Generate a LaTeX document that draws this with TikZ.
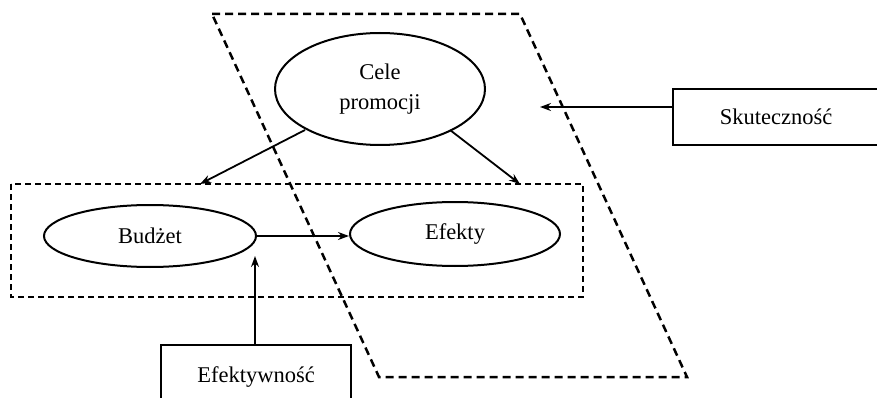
\documentclass[tikz,border=0pt]{standalone}
\usepackage{fontspec}
\setmainfont{Liberation Serif}
\usetikzlibrary{shapes.geometric,arrows.meta}
\begin{document}
\begin{tikzpicture}[x=1pt,y=-1pt,
  oval/.style={draw,ellipse,line width=2pt,inner sep=0pt,font=\fontsize{22.5}{30}\selectfont,align=center},
  lbox/.style={draw,rectangle,line width=2pt,inner sep=0pt,font=\fontsize{22.5}{27}\selectfont},
  conn/.style={line width=1.8pt,-{Stealth[length=11pt,width=8pt]}},
  para/.style={line width=2.5pt,dash pattern=on 8pt off 5pt},
  frame/.style={line width=2pt,dash pattern=on 6pt off 4pt}]
\useasboundingbox (0,0) rectangle (877,398);
\clip (0,0) rectangle (877,398);
% parallelogram
\coordinate (p1) at (212,14);
\coordinate (p2) at (520,14);
\coordinate (p3) at (687,377);
\coordinate (p4) at (379,377);
\draw[para] (p1) -- (p2) -- (p3) -- (p4) -- cycle;
% dashed frame
\coordinate (f1) at (11,184);
\coordinate (f2) at (583,297);
\draw[frame] (f1) rectangle (f2);
% ellipses
\node[oval,minimum width=210pt,minimum height=112pt] (cele) at (380,89) {Cele\\promocji};
\node[oval,minimum width=212pt,minimum height=62pt] (budzet) at (150,236) {Budżet};
\node[oval,minimum width=210pt,minimum height=64pt] (efekty) at (455,234) {\raisebox{-2pt}{Efekty}};
% boxes
\node[lbox,minimum width=220pt,minimum height=56pt,anchor=north west] (skut) at (672,88) {\hspace*{-14pt}Skuteczność};
\node[lbox,minimum width=190pt,minimum height=70pt,anchor=north west] (efekt) at (160,344) {\raisebox{11pt}{Efektywność}};
% arrow targets
\coordinate (t1) at (200,184);
\coordinate (t2) at (520,184);
\coordinate (t3) at (540,107);
\coordinate (t4) at (255,256);
\coordinate (s1) at (305,130);
\coordinate (s2) at (450,130);
\draw[conn] (s1) -- (t1);
\draw[conn] (s2) -- (t2);
\draw[conn] (budzet.east) -- (budzet.east -| efekty.west);
\draw[conn] (skut.west |- t3) -- (t3);
\draw[conn] (efekt.north -| t4) -- (t4);
\end{tikzpicture}
\end{document}
